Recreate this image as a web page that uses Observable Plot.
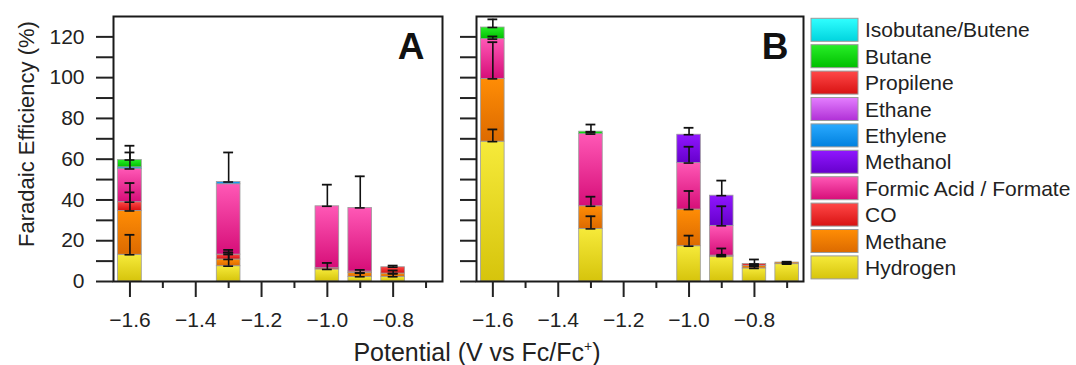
<!DOCTYPE html>
<html><head><meta charset="utf-8">
<script src="https://cdn.jsdelivr.net/npm/d3@7"></script>
<script src="https://cdn.jsdelivr.net/npm/@observablehq/plot@0.6"></script>
<style>
body{margin:0;background:#fff;}
#wrap{position:relative;width:1076px;height:365px;overflow:hidden;font-family:"Liberation Sans",Arial,sans-serif;color:#222;}
#wrap > svg, #wrap > div{position:absolute;}
</style></head>
<body><div id="wrap"></div>
<script>
// ---- series (bottom to top of each stack) ----
const seriesNames = ["Hydrogen","Methane","CO","Formic Acid / Formate","Methanol","Ethylene","Ethane","Propilene","Butane","Isobutane/Butene"];
const gradTop    = ["#f6ea3a","#ff8d05","#ff4848","#ff58b6","#9016ff","#2aaaff","#e47eff","#ff4848","#28ee28","#30ffff"];
const gradBottom = ["#d6c40c","#dc6a00","#d81212","#d60e78","#6600cc","#0080de","#b030d6","#d81212","#00bf00","#00d4de"];

// ---- axis ticks ----
const xMajorTicks = [-1.6, -1.4, -1.2, -1.0, -0.8];
const xMinorTicks = [-1.5, -1.3, -1.1, -0.9, -0.7];
const yTicks = [0,10,20,30,40,50,60,70,80,90,100,110,120];
const yTickLabels = [0,20,40,60,80,100,120];

// ---- Panel A ----
const potentialsA = [-1.6, -1.3, -1.0, -0.9, -0.8];
const hydrogenA  = [13.1, 7.5, 5.9, 2.3, 2.3];
const methaneA   = [21.5, 3.3, 0.0, 1.9, 1.6];
const coA        = [4.3, 2.4, 0.6, 0.7, 3.1];
const formicA    = [16.3, 34.5, 30.4, 31.2, 0.0];
const methanolA  = [0, 0, 0, 0, 0];
const ethyleneA  = [0.8, 1.1, 0, 0, 0];
const ethaneA    = [0, 0, 0, 0, 0];
const propileneA = [0, 0, 0, 0, 0];
const butaneA    = [3.6, 0, 0, 0, 0];
const isobutaneA = [0, 0, 0, 0, 0];
const hydrogenErrA = [9.8, 8.0, 3.2, 1.8, 1.5];
const methaneErrA  = [9.1, 3.4, 0, 1.5, 1.5];
const coErrA       = [9.4, 1.0, 0, 0, 0.8];
const formicErrA   = [8.1, 0, 10.6, 15.5, 0];
const ethyleneErrA = [0, 14.5, 0, 0, 0];
const butaneErrA   = [7.0, 0, 0, 0, 0];

// ---- Panel B ----
const potentialsB = [-1.6, -1.3, -1.0, -0.9, -0.8, -0.7];
const hydrogenB  = [68.6, 25.8, 17.3, 12.2, 6.4, 8.5];
const methaneB   = [30.8, 11.1, 18.0, 0.0, 1.3, 0.8];
const coB        = [0, 0, 0, 0.5, 0.9, 0];
const formicB    = [19.5, 35.4, 22.8, 14.6, 0, 0];
const methanolB  = [0, 0, 13.9, 14.8, 0, 0];
const ethyleneB  = [0, 0, 0, 0, 0, 0];
const ethaneB    = [0, 0, 0, 0, 0, 0];
const propileneB = [0, 0, 0, 0, 0, 0];
const butaneB    = [5.7, 1.2, 0, 0, 0, 0];
const isobutaneB = [0, 0, 0, 0, 0, 0];
const hydrogenErrB = [6.0, 6.2, 5.2, 4.0, 1.0, 0.5];
const methaneErrB  = [18.0, 4.7, 9.1, 0, 0.6, 0.4];
const coErrB       = [0, 0, 0, 0.4, 2.2, 0];
const formicErrB   = [1.3, 0.8, 8.0, 9.6, 0, 0];
const methanolErrB = [0, 0, 3.4, 7.4, 0, 0];
const butaneErrB   = [4.0, 3.5, 0, 0, 0, 0];

const zeros = n => new Array(n).fill(0);

function stackRows(potentials, values, errs) {
  const rows = [];
  potentials.forEach((p, i) => {
    let acc = 0;
    seriesNames.forEach((s, k) => {
      const v = values[k][i];
      if (v > 0) {
        rows.push({series: s, k, p, y1: acc, y2: acc + v, err: errs[k][i]});
        acc += v;
      }
    });
  });
  return rows;
}

const rowsA = stackRows(potentialsA,
  [hydrogenA, methaneA, coA, formicA, methanolA, ethyleneA, ethaneA, propileneA, butaneA, isobutaneA],
  [hydrogenErrA, methaneErrA, coErrA, formicErrA, zeros(5), ethyleneErrA, zeros(5), zeros(5), butaneErrA, zeros(5)]);
const rowsB = stackRows(potentialsB,
  [hydrogenB, methaneB, coB, formicB, methanolB, ethyleneB, ethaneB, propileneB, butaneB, isobutaneB],
  [hydrogenErrB, methaneErrB, coErrB, formicErrB, methanolErrB, zeros(6), zeros(6), zeros(6), butaneErrB, zeros(6)]);

const HALF = 0.036, CAP = 0.015;
const wrap = document.getElementById("wrap");

// gradient defs
const NS = "http://www.w3.org/2000/svg";
const defsSvg = document.createElementNS(NS, "svg");
defsSvg.setAttribute("width", 0); defsSvg.setAttribute("height", 0);
defsSvg.style.left = "0px"; defsSvg.style.top = "0px";
let defsHtml = "<defs>";
seriesNames.forEach((s, k) => {
  defsHtml += `<linearGradient id="grad${k}" x1="0" y1="0" x2="0" y2="1"><stop offset="0" stop-color="${gradTop[k]}"/><stop offset="1" stop-color="${gradBottom[k]}"/></linearGradient>`;
});
defsHtml += "</defs>";
defsSvg.innerHTML = defsHtml;
wrap.appendChild(defsSvg);

function panel(rows, showLabels, o) {
  const marks = [];
  seriesNames.forEach((s, k) => {
    const r = rows.filter(d => d.k === k);
    if (r.length) marks.push(Plot.rect(r, {
      x1: d => d.p - HALF, x2: d => d.p + HALF, y1: "y1", y2: "y2",
      fill: `url(#grad${k})`, stroke: "#9c9c9c", strokeWidth: 0.8
    }));
  });
  const er = rows.filter(d => d.err > 0);
  marks.push(Plot.ruleX(er, {x: "p", y1: "y2", y2: d => d.y2 + d.err, stroke: "#111", strokeWidth: 1.6}));
  marks.push(Plot.ruleY(er, {y: d => d.y2 + d.err, x1: d => d.p - CAP, x2: d => d.p + CAP, stroke: "#111", strokeWidth: 1.8}));
  marks.push(Plot.ruleY(er, {y: "y2", x1: d => d.p - CAP, x2: d => d.p + CAP, stroke: "#111", strokeWidth: 1.6}));
  marks.push(Plot.frame({stroke: "#1a1a1a", strokeWidth: 2}));
  marks.push(Plot.axisX(xMajorTicks, {tickSize: 16, tickPadding: 15, strokeWidth: 2, tickFormat: d3.format(".1f"), fontSize: 21, label: null, fill: "#222"}));
  marks.push(Plot.axisX(xMinorTicks, {tickSize: 7, strokeWidth: 2, tickFormat: () => "", label: null}));
  marks.push(Plot.axisY(yTicks, {tickSize: o.yTickSize, tickPadding: 12, strokeWidth: 2,
    tickFormat: d => (showLabels && yTickLabels.includes(d)) ? String(d) : "", fontSize: 21, label: null, fill: "#222"}));
  return Plot.plot({
    width: o.width, height: 340,
    marginLeft: o.ml, marginRight: o.mr, marginTop: 16, marginBottom: 59,
    x: {domain: [-1.65, -0.65]},
    y: {domain: [0, 130]},
    style: {fontFamily: "Liberation Sans, Arial, sans-serif", fontSize: "21px", color: "#222", background: "transparent"},
    marks
  });
}

const plotA = panel(rowsA, true, {width: 460, ml: 113, mr: 18, yTickSize: 17});
plotA.style.left = "0px"; plotA.style.top = "0px";
wrap.appendChild(plotA);
const plotB = panel(rowsB, false, {width: 360, ml: 16, mr: 17, yTickSize: 16});
plotB.style.left = "460px"; plotB.style.top = "0px";
wrap.appendChild(plotB);

// overlay texts and legend
const ov = document.createElementNS(NS, "svg");
ov.setAttribute("width", 1076); ov.setAttribute("height", 365);
ov.style.left = "0px"; ov.style.top = "0px"; ov.style.pointerEvents = "none";
let h = "";
h += `<text transform="translate(26,134) rotate(-90)" text-anchor="middle" dominant-baseline="central" font-size="22" fill="#222">Faradaic Efficiency (%)</text>`;
h += `<text x="477" y="361" text-anchor="middle" font-size="25" fill="#222">Potential (V vs Fc/Fc<tspan font-size="14" dy="-10">+</tspan><tspan dy="10">)</tspan></text>`;
h += `<text x="411" y="59" text-anchor="middle" font-size="37" font-weight="bold" fill="#111">A</text>`;
h += `<text x="775" y="59" text-anchor="middle" font-size="37" font-weight="bold" fill="#111">B</text>`;
const legendOrder = seriesNames.map((s, k) => k).reverse();
legendOrder.forEach((k, i) => {
  const y = 18.3 + i * 26.4;
  h += `<rect x="811" y="${y}" width="47" height="23" fill="url(#grad${k})" stroke="#9a9a9a" stroke-width="1"/>`;
  h += `<text x="865" y="${y + 11.5}" dominant-baseline="central" font-size="21" fill="#222">${seriesNames[k]}</text>`;
});
ov.innerHTML = h;
ov.setAttribute("font-family", "Liberation Sans, Arial, sans-serif");
wrap.appendChild(ov);
</script>
</body></html>
